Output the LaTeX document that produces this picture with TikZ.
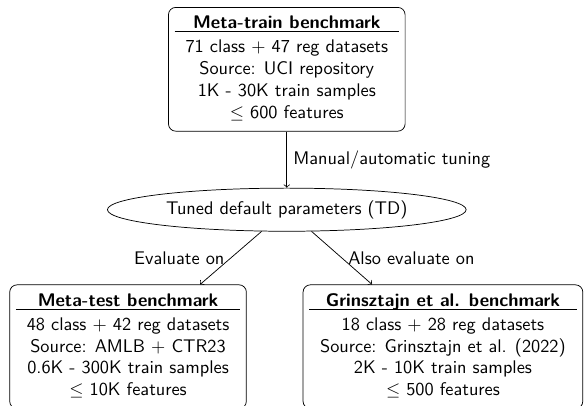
\documentclass[tikz,border=0pt]{standalone}
\usepackage{amsmath, amssymb}
\usepackage{tikz}
\usetikzlibrary{
  shapes.geometric,%
  arrows,
  positioning
}
\tikzset{>=to}
\tikzset{font=\sffamily}
\tikzset{bench/.style={draw, rounded corners, anchor=north}}
\tikzset{tuned/.style={draw, ellipse}}
% header row of a benchmark box
\newcommand{\benchhead}[1]{\textbf{#1}\\[-2.3pt] \hline \rule{0pt}{11.3pt}}

\begin{document}
\begin{tikzpicture}
                \useasboundingbox (-5.51, 0.135) rectangle (5.71, -7.65);%
                \node[bench] (train) at (0, 0) {\begin{tabular}{c}
                  \benchhead{Meta-train benchmark}71 class $+$ 47 reg datasets\\
                  Source: UCI repository\\
                  1K - 30K train samples\\
                  $\leq$ 600 features
                \end{tabular}};%
                \node[tuned, below=1.08 of train] (td) {Tuned default parameters (TD)};%
                \node[bench] (test) at (-3.05, -5.33) {\begin{tabular}{c}
                  \benchhead{Meta-test benchmark}48 class $+$ 42 reg datasets\\
                  Source: AMLB $+$ CTR23\\
                  0.6K - 300K train samples\\
                  $\leq$ 10K features
                \end{tabular}};%
                \node[bench] (grin) at (3.00, -5.33) {\begin{tabular}{c}
                  \benchhead{Grinsztajn et al. benchmark}18 class $+$ 28 reg datasets\\
                  Source: Grinsztajn et al. (2022)\\
                  2K - 10K train samples\\
                  $\leq$ 500 features
                \end{tabular}};%
                \draw[->] (train) -- node[right] {Manual/automatic tuning} (td);%
                \draw[->] (td) -- node[left] {Evaluate on} (test);%
                \draw[->] (td) -- node[right] {Also evaluate on} (grin);%
              \end{tikzpicture}
\end{document}
